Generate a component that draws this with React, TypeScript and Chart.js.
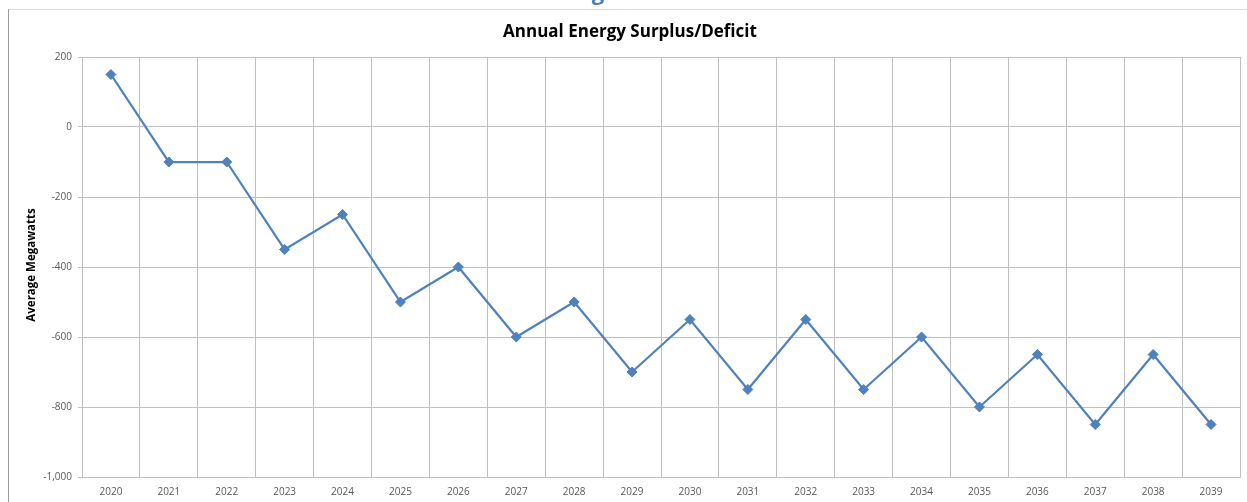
import React, { useEffect, useRef } from "react";
import { Chart, registerables } from "chart.js";

Chart.register(...registerables);

const categories = ["2020","2021","2022","2023","2024","2025","2026","2027","2028","2029","2030","2031","2032","2033","2034","2035","2036","2037","2038","2039"];
const surplus = [150,-100,-100,-350,-250,-500,-400,-600,-500,-700,-550,-750,-550,-750,-600,-800,-650,-850,-650,-850];
const yTicks = [200, 0, -200, -400, -600, -800, -1000];
const chartTitle = "Annual Energy Surplus/Deficit";
const yTitle = "Average Megawatts";

const decor = {
  id: "decor",
  beforeDraw(chart: any) {
    const ctx = chart.ctx;
    ctx.save();
    ctx.fillStyle = "#ffffff";
    ctx.fillRect(0, 0, chart.width, chart.height);
    // frame lines
    ctx.strokeStyle = "#DADADA";
    ctx.lineWidth = 1;
    ctx.beginPath();
    ctx.moveTo(8, 9.5);
    ctx.lineTo(chart.width, 9.5);
    ctx.stroke();
    ctx.strokeStyle = "#9A9A9A";
    ctx.beginPath();
    ctx.moveTo(8.5, 9);
    ctx.lineTo(8.5, chart.height);
    ctx.stroke();
    // clipped heading fragment
    ctx.fillStyle = "#4A7EBB";
    ctx.font = "bold 22px 'Open Sans'";
    ctx.textAlign = "center";
    ctx.textBaseline = "alphabetic";
    ctx.save();
    ctx.beginPath();
    ctx.rect(0, 0, chart.width, 8);
    ctx.clip();
    ctx.fillText("g", 598, 0);
    ctx.restore();
    // title
    ctx.fillStyle = "#000000";
    ctx.font = "bold 17px 'Open Sans'";
    ctx.fillText(chartTitle, 630, 37, 256);
    // y axis title
    ctx.save();
    ctx.translate(32, 265);
    ctx.rotate(-Math.PI / 2);
    ctx.font = "bold 11.5px 'Open Sans'";
    ctx.textBaseline = "middle";
    ctx.fillText(yTitle, 0, 0);
    ctx.restore();
    ctx.restore();
  },
};

export default function App() {
  const ref = useRef<HTMLCanvasElement>(null);
  useEffect(() => {
    if (!ref.current) return;
    const chart = new Chart(ref.current, {
      type: "line",
      data: {
        labels: categories,
        datasets: [
          {
            data: surplus,
            borderColor: "#4F81BD",
            backgroundColor: "#4F81BD",
            borderWidth: 2.25,
            pointStyle: "rectRot",
            pointRadius: 5,
            pointBorderWidth: 1,
            tension: 0,
          },
        ],
      },
      options: {
        animation: false,
        responsive: false,
        layout: { padding: { top: 57, right: 7, left: 0, bottom: 0 } },
        plugins: {
          legend: { display: false },
          title: { display: false },
          tooltip: { enabled: false },
        },
        scales: {
          x: {
            offset: true,
            grid: { offset: true, color: "#C0C0C0", lineWidth: 1, drawTicks: false },
            border: { color: "#C0C0C0" },
            ticks: {
              padding: 9,
              color: "#595959",
              font: { family: "'Open Sans'", size: 10 },
              maxRotation: 0,
              autoSkip: false,
            },
            afterFit(scale: any) {
              scale.height = 25;
            },
          },
          y: {
            min: -1000,
            max: 200,
            afterBuildTicks(scale: any) {
              scale.ticks = yTicks.map((v) => ({ value: v }));
            },
            grid: { color: "#C0C0C0", lineWidth: 1, tickLength: 4 },
            border: { color: "#C0C0C0" },
            ticks: {
              padding: 6,
              color: "#595959",
              font: { family: "'Open Sans'", size: 10 },
              callback: (v: any) => Number(v).toLocaleString("en-US"),
            },
            afterFit(scale: any) {
              scale.width = 82;
            },
          },
        },
      },
      plugins: [decor],
    });
    return () => chart.destroy();
  }, []);
  return (
    <div style={{ position: "fixed", left: 0, top: 0, width: 1247, height: 502, background: "#fff" }}>
      <canvas ref={ref} width={1247} height={502} style={{ display: "block" }} />
    </div>
  );
}
